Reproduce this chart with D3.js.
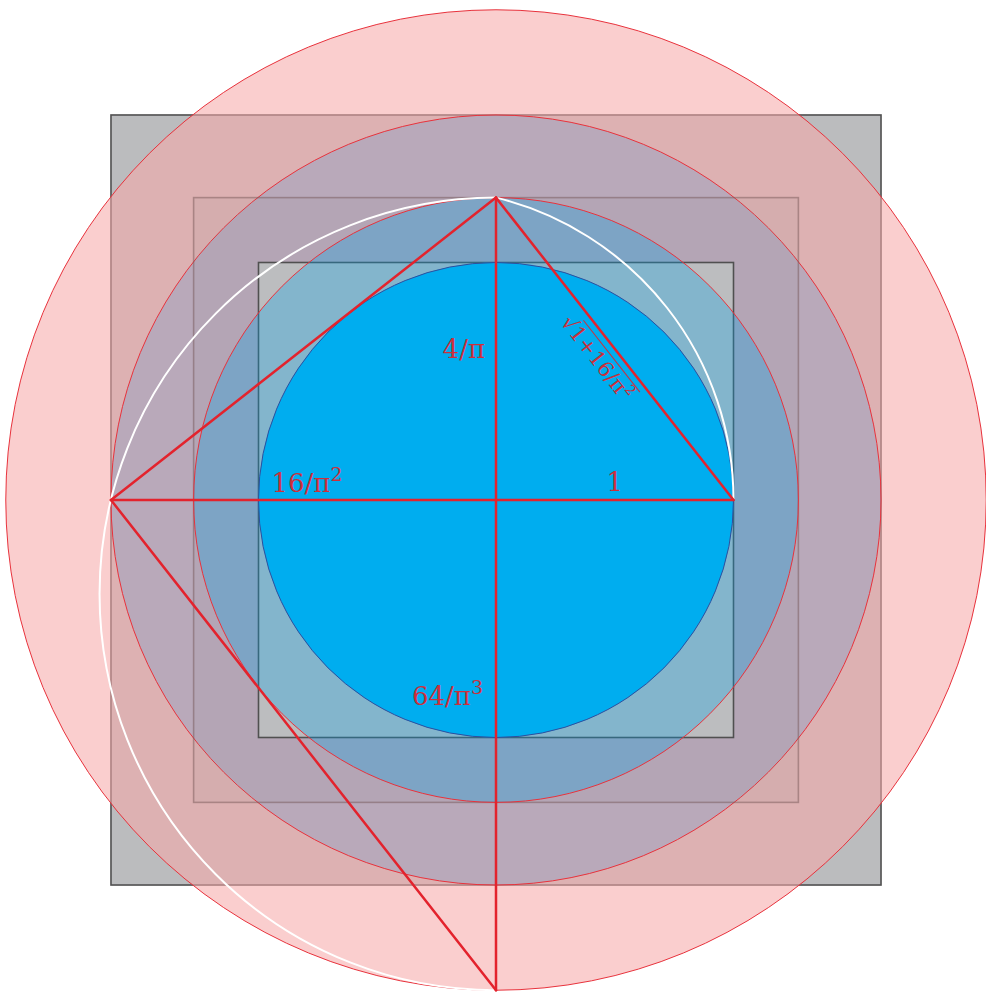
<!DOCTYPE html>
<html>
<head>
<meta charset="utf-8">
<script src="https://cdn.jsdelivr.net/npm/d3@7"></script>
<style>
  html, body { margin: 0; padding: 0; background: #fff; }
  svg { display: block; }
  .lbl { font-family: "DejaVu Serif", serif; fill: #cc2f3b; }
</style>
</head>
<body>
<svg id="chart"></svg>
<script>
// lengths in units of the inner circle radius
const PI = Math.PI;
const circleRadii = [64 / PI ** 3, 16 / PI ** 2, 4 / PI, 1];
const squareHalves = [16 / PI ** 2, 4 / PI, 1];
const labels = ["4/π", "16/π", "1", "64/π"];
const labelSups = ["", "2", "", "3"];
const hypLabel = ["√", "1+16/π", "2"];

var width = 986, height = 992;
var unit = 237.5;
var cx = 496, cy = 500;

var svg = d3.select("#chart").attr("width", width).attr("height", height);

var x = d3.scaleLinear().domain([0, 1]).range([cx, cx + unit]);
var y = d3.scaleLinear().domain([0, 1]).range([cy, cy - unit]);
function len(v) { return x(v) - x(0); }

var a = circleRadii[1], b = circleRadii[2], c = circleRadii[0];
// key points
var W = [-a, 0], E = [1, 0], N = [0, b], S = [0, -c];
var segments = [[W, E], [N, S], [W, N], [N, E], [W, S]];

function square(h, fill, op, stroke, sop, sw) {
    svg.append("rect")
        .attr("x", x(-h)).attr("y", y(h))
        .attr("width", len(2 * h)).attr("height", len(2 * h))
        .attr("fill", fill).attr("fill-opacity", op)
        .attr("stroke", stroke).attr("stroke-opacity", sop)
        .attr("stroke-width", sw);
}
function circle(r, fill, op, stroke, sw) {
    svg.append("circle")
        .attr("cx", x(0)).attr("cy", y(0)).attr("r", len(r))
        .attr("fill", fill).attr("fill-opacity", op)
        .attr("stroke", stroke).attr("stroke-width", sw);
}

// back to front
square(squareHalves[0], "#bbbcbe", 1, "#505050", 1, 1.6);
circle(circleRadii[0], "rgb(246,168,168)", 0.57, "#e8323c", 1);
circle(circleRadii[1], "rgb(102,153,206)", 0.3, "#e8323c", 1);
square(squareHalves[1], "#808080", 0.08, "#6e5050", 0.45, 1.6);
square(squareHalves[2], "#bcbdbf", 1, "#505050", 1, 1.6);
circle(circleRadii[2], "rgb(0,162,234)", 0.3, "#e8323c", 1);
circle(circleRadii[3], "#00adef", 1, "#2d4f9e", 1);

// white arcs: circle on diameter W-E (only N to E part),
// circle on diameter N-S (left half)
var c1x = x((E[0] + W[0]) / 2), r1 = len((E[0] - W[0]) / 2);
var aN = Math.atan2(y(N[1]) - y(0), x(N[0]) - c1x);
var p1 = d3.path();
p1.arc(c1x, y(0), r1, aN, 0, false);
var c2y = y((N[1] + S[1]) / 2), r2 = len((N[1] - S[1]) / 2);
var p2 = d3.path();
p2.arc(x(0), c2y, r2, -PI / 2, PI / 2, true);
svg.append("path").attr("d", p1.toString()).attr("fill", "none")
    .attr("stroke", "#fff").attr("stroke-width", 2);
svg.append("path").attr("d", p2.toString()).attr("fill", "none")
    .attr("stroke", "#fff").attr("stroke-width", 2);

// red triangle lines
svg.selectAll("line.seg")
    .data(segments)
    .enter()
    .append("line")
    .attr("class", "seg")
    .attr("x1", d => x(d[0][0])).attr("y1", d => y(d[0][1]))
    .attr("x2", d => x(d[1][0])).attr("y2", d => y(d[1][1]))
    .attr("stroke", "#e3232d").attr("stroke-width", 2.5)
    .attr("stroke-linecap", "round");

// labels
function label(txt, sup, px, py, anchor) {
    var t = svg.append("text").attr("class", "lbl")
        .attr("x", px).attr("y", py)
        .attr("text-anchor", anchor)
        .style("font-size", "26px");
    t.append("tspan").text(txt);
    if (sup) {
        t.append("tspan").attr("dy", -11).style("font-size", "19px").text(sup);
    }
}
label(labels[0] + labelSups[0], "", x(0) - 11, y(b / 2) + 9, "end");
label(labels[1], labelSups[1], x(-a / 2) - 32, y(0) - 8, "start");
label(labels[2], "", x(0.5), y(0) - 9, "middle");
label(labels[3], labelSups[3], x(0) - 84, y(-0.863), "start");

// hypotenuse label, rotated along N-E
var ang = Math.atan2(y(E[1]) - y(N[1]), x(E[0]) - x(N[0])) * 180 / PI;
var g = svg.append("g")
    .attr("transform", "translate(" + x(N[0]) + "," + y(N[1]) + ") rotate(" + ang + ")");
var ht = g.append("text").attr("class", "lbl")
    .attr("x", 138).attr("y", 27).style("font-size", "21px");
var rad = ht.append("tspan").text(hypLabel[0]);
ht.append("tspan").text(hypLabel[1]);
ht.append("tspan").attr("dy", -9).style("font-size", "14px").text(hypLabel[2]);
var radW = rad.node().getComputedTextLength();
var totW = ht.node().getComputedTextLength();
g.append("line")
    .attr("x1", 138 + radW - 1).attr("y1", 7)
    .attr("x2", 138 + totW + 3).attr("y2", 7)
    .attr("stroke", "#cc2f3b").attr("stroke-width", 1);
</script>
</body>
</html>
